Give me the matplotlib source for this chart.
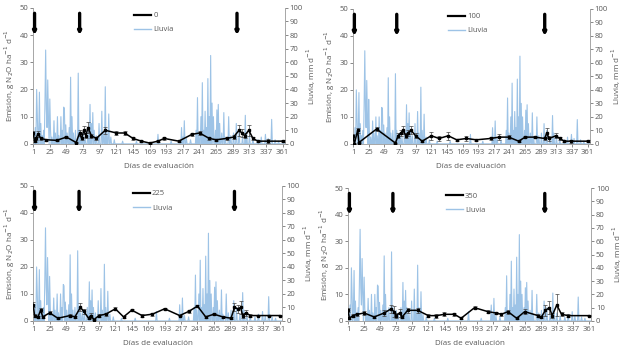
import matplotlib
matplotlib.use("Agg")
import matplotlib.pyplot as plt
from matplotlib.lines import Line2D
import numpy as np

plt.rcParams["font.family"] = ["Open Sans", "DejaVu Sans"]

# ── Rainfall (shared by all panels), mm/d ─────────────────────────────
RAIN_DAYS = [2, 4, 6, 7, 9, 10, 12, 14, 16, 18, 19, 20, 21, 22, 23, 25, 26, 28, 31, 33,
             36, 38, 41, 43, 45, 46, 48, 50, 53, 55, 57, 59, 62, 66, 68, 70, 73, 76, 80, 83,
             85, 87, 89, 92, 96, 100, 102, 105, 107, 110, 113, 118, 130, 150, 181, 200, 215,
             217, 219, 222, 228, 236, 238, 240, 243, 245, 247, 249, 251, 253, 255, 257, 259,
             261, 264, 266, 268, 270, 273, 276, 278, 283, 286, 290, 294, 298, 303, 307, 309,
             313, 318, 325, 330, 336, 340, 345, 350, 355]
RAIN_MM = [5, 12, 40, 20, 8, 38, 15, 6, 10, 30, 69, 25, 12, 47, 20, 33, 10, 5, 17, 8,
           20, 6, 20, 10, 27, 26, 14, 8, 12, 49, 20, 8, 10, 52, 10, 6, 8, 5, 10, 29,
           15, 23, 10, 6, 15, 24, 8, 42, 10, 22, 5, 3, 2, 2, 7, 2, 12,
           5, 17, 4, 3, 10, 34, 8, 20, 45, 10, 24, 12, 48, 20, 65, 30,
           20, 10, 25, 29, 15, 8, 23, 5, 20, 6, 8, 15, 10, 5, 21, 8,
           6, 4, 3, 5, 7, 4, 18, 3, 2]

# ── N2O emission per N dose (g N2O/ha/d) ──────────────────────────────
DAYS_0 = [1, 3, 5, 8, 12, 20, 35, 49, 63, 68, 71, 74, 77, 80, 85, 92, 105, 121, 133,
          145, 157, 169, 181, 190, 211, 230, 241, 255, 265, 280, 290, 298, 302, 306,
          312, 318, 325, 340, 361]
EMIS_0 = [4, 1, 2, 3.7, 2, 1.5, 1.3, 2.5, 0.5, 4, 2, 5, 3, 6, 3, 2, 5, 4, 4,
          2, 1, 0.3, 1, 2, 1, 3.5, 4, 2, 1.5, 2, 2.5, 5, 4, 3, 5, 2, 1, 1, 1]
ERR_0 = [0.8, 0.3, 0.5, 1, 0.4, 0.3, 0.3, 0.5, 0.2, 1.2, 0.6, 1.5, 1, 2, 0.8, 0.5, 1.2,
         0.8, 0.6, 0.4, 0.3, 0.2, 0.3, 0.4, 0.3, 0.5, 0.6, 0.4, 0.3, 0.5, 0.6, 2, 1.5,
         1, 2, 0.6, 0.3, 0.8, 0.3]

DAYS_100 = [1, 3, 8, 10, 37, 66, 70, 74, 78, 82, 85, 90, 97, 107, 121, 133, 147, 160,
            175, 190, 212, 225, 240, 255, 265, 280, 295, 298, 302, 312, 318, 325, 335, 361]
EMIS_100 = [3, 0, 5, 0.5, 5.5, 0.3, 3, 4, 5, 3, 4, 5, 3, 1, 3, 2, 3, 1.5,
            2, 1.5, 2, 2.5, 2.5, 1, 2.5, 2.5, 2, 4, 2, 3, 2, 1, 1, 1]
ERR_100 = [0.8, 0.2, 1, 0.2, 0.8, 0.2, 1, 1.2, 1.5, 1, 1.2, 1.5, 1, 0.3, 1.5, 1, 1.5, 0.4,
           1, 0.4, 0.6, 1, 0.8, 0.3, 0.5, 0.5, 0.6, 2, 1, 1, 0.5, 0.3, 0.5, 0.3]

DAYS_225 = [1, 3, 8, 12, 15, 25, 37, 55, 62, 70, 75, 82, 85, 90, 97, 107, 121, 133,
            145, 160, 175, 193, 215, 228, 241, 253, 265, 278, 290, 295, 300, 304, 307,
            312, 318, 330, 345, 361]
EMIS_225 = [6, 2, 1.5, 4, 1.5, 3, 1, 2, 1.5, 5, 3.5, 1, 2, 0.5, 2, 2.5, 4.5, 1.5,
            4, 2, 2.5, 4.5, 2, 3.5, 5.5, 1.5, 2.5, 1.5, 1, 5, 4.5, 5, 2,
            3, 2, 2, 2, 2]
ERR_225 = [1, 0.5, 0.4, 0.8, 0.4, 0.6, 0.3, 0.4, 0.3, 1.5, 1, 0.3, 0.8, 0.3, 0.5, 0.5,
           0.6, 0.3, 0.4, 0.4, 0.6, 0.4, 0.3, 0.6, 0.5, 0.3, 0.4, 0.3, 0.3, 1.5, 1.5, 2.5,
           0.8, 1, 0.4, 0.3, 0.3, 0.3]

DAYS_350 = [1, 3, 8, 15, 25, 40, 55, 65, 70, 73, 78, 82, 90, 105, 121, 133, 145, 160,
            170, 190, 210, 222, 230, 240, 253, 265, 285, 290, 296, 302, 306, 313, 320,
            330, 361]
EMIS_350 = [4, 1, 2, 2.5, 3, 1.5, 3, 4.5, 3.5, 2, 3, 1.5, 4, 4, 2, 2, 2.5, 2.5,
            1, 5, 3.5, 3, 2.5, 3.5, 1, 3.5, 2, 1.5, 4, 5, 2, 6, 2.5, 2, 2]
ERR_350 = [0.8, 0.4, 0.6, 0.6, 0.8, 0.4, 1, 1.5, 2, 1, 1.5, 0.5, 1, 1, 0.6, 0.8, 0.8, 0.6,
           0.3, 0.5, 0.5, 0.4, 0.5, 0.8, 0.3, 1, 0.5, 0.5, 2, 2.5, 1, 4, 0.8, 0.6, 0.3]

# fertilization dates (arrows)
ARROW_DAYS = [3, 68, 295]

TREATMENTS = [
    ("0", DAYS_0, EMIS_0, ERR_0),
    ("100", DAYS_100, EMIS_100, ERR_100),
    ("225", DAYS_225, EMIS_225, ERR_225),
    ("350", DAYS_350, EMIS_350, ERR_350),
]

# axes rects in figure fraction [left, bottom, width, height]
RECTS = [
    [0.053, 0.597, 0.402, 0.381],
    [0.564, 0.597, 0.378, 0.378],
    [0.053, 0.101, 0.397, 0.378],
    [0.556, 0.101, 0.388, 0.372],
]

GREY = "#595959"
RAIN_C = "#9dc3e6"
FS = 5.5

rain = np.zeros(366)
rain[np.array(RAIN_DAYS)] = RAIN_MM
all_days = np.arange(1, 366)

fig = plt.figure(figsize=(6.26, 3.57), dpi=100)

for (name, days, emis, err), rect in zip(TREATMENTS, RECTS):
    ax = fig.add_axes(rect)
    ax2 = ax.twinx()
    ax2.plot(all_days, rain[1:], color=RAIN_C, lw=0.8, zorder=1)
    ax2.set_ylim(0, 100)
    ax2.set_yticks(np.arange(0, 101, 10))

    ax.set_zorder(ax2.get_zorder() + 1)
    ax.patch.set_visible(False)
    ax.errorbar(days, emis, yerr=err, color="black", lw=1.1, marker="s", ms=1.5,
                ecolor="#404040", elinewidth=0.5, capsize=1.2, capthick=0.5,
                zorder=3)
    for d in ARROW_DAYS:
        ax.annotate("", xy=(d, 40), xytext=(d, 48),
                    arrowprops=dict(arrowstyle="-|>", lw=2.4, color="black",
                                    mutation_scale=4, shrinkA=0, shrinkB=0))
    ax.set_xlim(1, 364)
    ax.set_ylim(0, 50)
    ax.set_xticks(np.arange(1, 362, 24))
    ax.set_yticks(np.arange(0, 51, 10))

    for a in (ax, ax2):
        a.tick_params(labelsize=FS, colors=GREY, length=2, width=0.5, pad=1.5)
        for s in a.spines.values():
            s.set_color("#a6a6a6")
            s.set_linewidth(0.6)
        a.spines["top"].set_visible(False)

    ax.set_xlabel("Días de evaluación", fontsize=FS + 0.3, color=GREY, labelpad=5)
    ax.set_ylabel("Emisión, g N$_2$O ha$^{-1}$ d$^{-1}$", fontsize=FS + 0.3,
                  color=GREY, labelpad=2)
    ax2.set_ylabel("Lluvia, mm d$^{-1}$", fontsize=FS + 0.3, color=GREY, labelpad=1)

    handles = [Line2D([], [], color="black", lw=1.6),
               Line2D([], [], color=RAIN_C, lw=1.0)]
    ax.legend(handles, [name, "Lluvia"], loc="upper left", bbox_to_anchor=(0.38, 1.01),
              frameon=False, fontsize=FS, handlelength=2.2, labelspacing=0.9,
              labelcolor=GREY, borderpad=0.2, handletextpad=0.3)

fig.savefig("out.png", dpi=100)
